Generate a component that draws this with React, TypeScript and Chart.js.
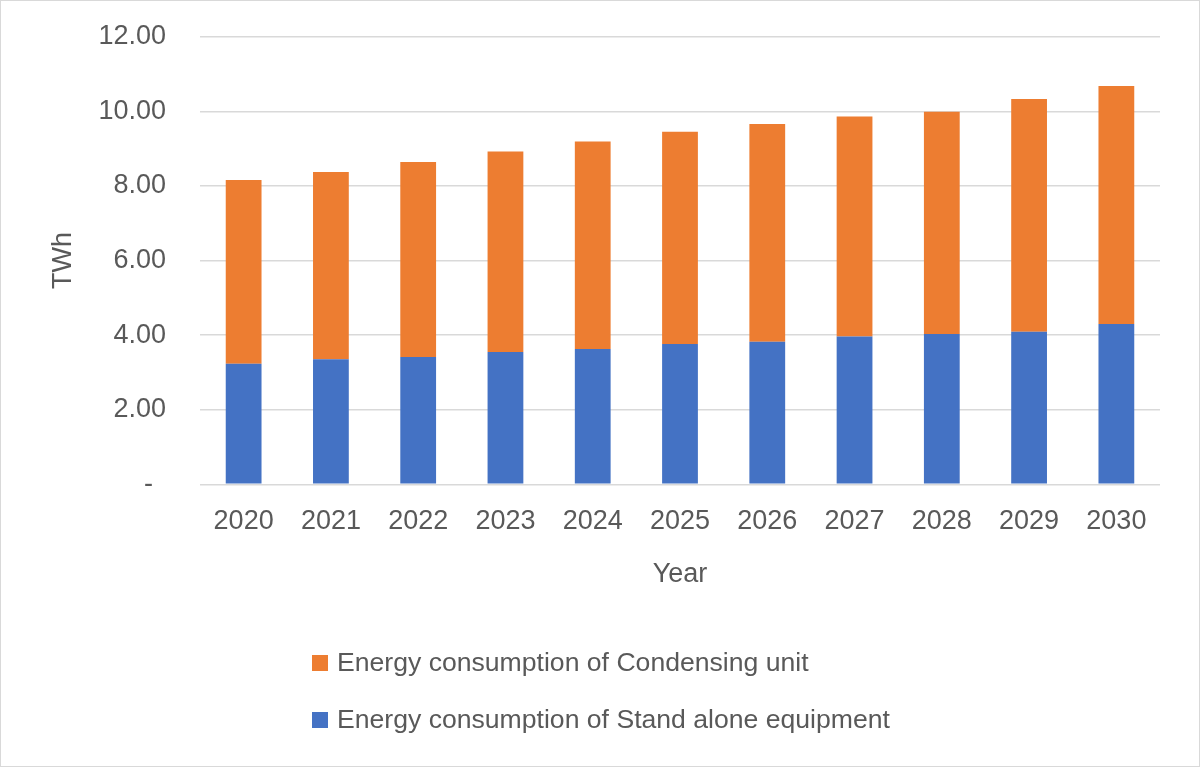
import React, { useEffect, useRef } from "react";
import { Chart, registerables } from "chart.js";

Chart.register(...registerables);

const years = ["2020", "2021", "2022", "2023", "2024", "2025", "2026", "2027", "2028", "2029", "2030"];
const standAlone = [3.23, 3.35, 3.41, 3.55, 3.63, 3.76, 3.82, 3.96, 4.03, 4.09, 4.3];
const condensing = [4.93, 5.02, 5.23, 5.37, 5.56, 5.69, 5.84, 5.9, 5.96, 6.24, 6.38];

const seriesNames = [
  "Energy consumption of Stand alone equipment",
  "Energy consumption of Condensing unit",
];
const seriesColors = ["#4472C4", "#ED7D31"];

const TEXT = "#595959";
const FONT = "'Liberation Sans', Arial, sans-serif";
const FS = 27;
const LEGEND_FS = 26.6;

// Legend drawn below the axes, one entry per row, top series first (as in the source)
const stackedLegend = {
  id: "stackedLegend",
  afterDraw(chart: any) {
    const ctx = chart.ctx;
    const x0 = 311;
    const firstRowCenter = 662;
    const rowGap = 57;
    const box = 16;
    const dsList = chart.data.datasets.slice().reverse();
    ctx.save();
    ctx.font = `${LEGEND_FS}px ${FONT}`;
    ctx.textBaseline = "middle";
    ctx.textAlign = "left";
    dsList.forEach((ds: any, i: number) => {
      const cy = firstRowCenter + i * rowGap;
      ctx.fillStyle = ds.backgroundColor;
      ctx.fillRect(x0, cy - box / 2, box, box);
      ctx.fillStyle = TEXT;
      ctx.fillText(ds.label, x0 + box + 9, cy + 1);
    });
    ctx.restore();
  },
};

export default function App() {
  const ref = useRef<HTMLCanvasElement | null>(null);

  useEffect(() => {
    if (!ref.current) return;
    const chart = new Chart(ref.current, {
      type: "bar",
      data: {
        labels: years,
        datasets: [
          {
            label: seriesNames[0],
            data: standAlone,
            backgroundColor: seriesColors[0],
            borderWidth: 0,
          },
          {
            label: seriesNames[1],
            data: condensing,
            backgroundColor: seriesColors[1],
            borderWidth: 0,
          },
        ],
      },
      options: {
        responsive: false,
        animation: false,
        events: [],
        datasets: {
          bar: { barPercentage: 0.41, categoryPercentage: 1 },
        },
        layout: {
          padding: { top: 35.7, left: 0, right: 39, bottom: 175.7 },
        },
        scales: {
          x: {
            stacked: true,
            grid: { display: false, drawTicks: false },
            border: { display: false },
            ticks: {
              color: TEXT,
              font: { family: FONT, size: FS },
              padding: 21.5,
              maxRotation: 0,
            },
            title: {
              display: true,
              text: "Year",
              color: TEXT,
              font: { family: FONT, size: FS },
              padding: { top: 0, bottom: 0 },
            },
            afterFit: (scale: any) => {
              scale.height = 106;
            },
          },
          y: {
            stacked: true,
            min: 0,
            max: 12,
            grid: {
              color: "#d9d9d9",
              lineWidth: 1.5,
              drawTicks: false,
            },
            border: { display: false },
            ticks: {
              stepSize: 2,
              color: TEXT,
              font: { family: FONT, size: FS },
              padding: 34,
              callback: (v: any) => (Number(v) === 0 ? "- \u2009" : Number(v).toFixed(2)),
            },
            title: {
              display: true,
              text: "TWh",
              color: TEXT,
              font: { family: FONT, size: FS },
              padding: { top: 46.8, bottom: 0 },
            },
            afterFit: (scale: any) => {
              scale.width = 199;
              scale.paddingTop = 0;
              scale.paddingBottom = 0;
            },
          },
        },
        plugins: {
          legend: { display: false },
          tooltip: { enabled: false },
        },
      },
      plugins: [stackedLegend],
    });
    return () => chart.destroy();
  }, []);

  return (
    <div
      style={{
        position: "absolute",
        left: 0,
        top: 0,
        width: 1200,
        height: 767,
        boxSizing: "border-box",
        border: "1px solid #d9d9d9",
        background: "#ffffff",
      }}
    >
      <canvas ref={ref} width={1198} height={765} style={{ display: "block" }} />
    </div>
  );
}
